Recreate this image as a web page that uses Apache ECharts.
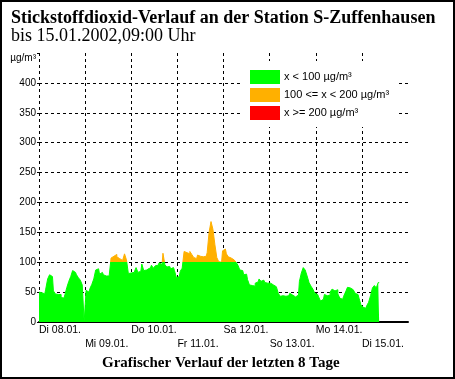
<!DOCTYPE html>
<html>
<head>
<meta charset="utf-8">
<script src="https://cdn.jsdelivr.net/npm/echarts@6/dist/echarts.min.js"></script>
<style>html,body{margin:0;padding:0;background:#fff;}#c{width:455px;height:379px;}</style>
</head>
<body>
<div id="c"></div>
<script>
const dayLabels = ['Di 08.01.', 'Mi 09.01.', 'Do 10.01.', 'Fr 11.01.', 'Sa 12.01.', 'So 13.01.', 'Mo 14.01.', 'Di 15.01.'];
// hourly NO2 values (µg/m³) from 08.01. 00:00 to 15.01. 09:00
const no2Values = [
  50,49,48,47,55,72,79,76,52,47,46,46,41,40,46,58,68,76,86,83,79,74,70,62,
  0,53,50,56,63,72,87,89,80,83,79,77,77,80,107,110,113,109,106,103,103,114,104,81,
  82,83,82,91,83,85,97,86,87,90,86,95,
  90,94,95,99,96,115,96,92,93,89,91,86,
  74,76,85,90,118,116,114,118,113,108,106,112,110,109,109,110,116,150,168,155,130,108,101,100,
  119,122,114,109,107,104,102,100,95,87,86,79,80,71,62,61,60,65,67,72,68,70,
  66,65,65,63,62,59,59,48,43,44,43,46,44,48,45,42,39,45,68,82,91,87,77,66,60,55,
  48,46,42,35,38,46,44,45,50,55,52,54,47,40,38,43,50,58,57,54,51,48,46,40,
  29,25,23,27,33,44,57,61,57,66
];
const classLabels = ['x < 100 µg/m³', '100 <= x < 200 µg/m³', 'x >= 200 µg/m³'];
const classLimits = [100, 200];
const yTicksMax = 450;
const unitLabel = 'µg/m³';

const chart = echarts.init(document.getElementById('c'), null, {renderer: 'canvas'});
const seriesData = no2Values.map((v, i) => [i, v]);
const dash = {color: '#000', type: [3, 3], width: 1};

chart.setOption({
  animation: false,
  backgroundColor: '#fff',
  title: [
    {
      text: 'Stickstoffdioxid-Verlauf an der Station S-Zuffenhausen',
      subtext: 'bis 15.01.2002,09:00 Uhr',
      left: 11, top: 9, padding: 0, itemGap: 0,
      textStyle: {fontFamily: 'Liberation Serif', fontWeight: 'bold', fontSize: 18, lineHeight: 18, color: '#000'},
      subtextStyle: {fontFamily: 'Liberation Serif', fontWeight: 'normal', fontSize: 18, lineHeight: 18, color: '#000'}
    },
    {
      text: 'Grafischer Verlauf der letzten 8 Tage',
      left: 102, top: 356, padding: 0,
      textStyle: {fontFamily: 'Liberation Serif', fontWeight: 'bold', fontSize: 15, lineHeight: 15, color: '#000'}
    }
  ],
  grid: {left: 39, right: 47, top: 53, bottom: 57},
  xAxis: {
    type: 'value', min: 0, max: 192, interval: 24,
    axisLine: {show: true, lineStyle: {color: '#000', width: 2}},
    axisTick: {show: false},
    splitLine: {show: true, lineStyle: dash, showMinLine: true, showMaxLine: false},
    axisLabel: {
      show: true, showMaxLabel: false, align: 'left', margin: 2,
      fontFamily: 'Liberation Sans', fontSize: 10.5, color: '#000',
      formatter: function (val) {
        const i = Math.round(val / 24);
        if (i >= dayLabels.length) return '';
        return i % 2 === 0 ? '{a|' + dayLabels[i] + '}' : '{b|' + dayLabels[i] + '}';
      },
      rich: {
        a: {fontFamily: 'Liberation Sans', fontSize: 10.5, lineHeight: 12, color: '#000'},
        b: {fontFamily: 'Liberation Sans', fontSize: 10.5, lineHeight: 12, color: '#000', padding: [29, 0, 0, 0]}
      }
    }
  },
  yAxis: {
    type: 'value', min: 0, max: yTicksMax, interval: 50,
    axisLine: {show: false},
    axisTick: {show: true, length: 2, lineStyle: {color: '#000'}},
    splitLine: {show: true, lineStyle: dash, showMinLine: false, showMaxLine: false},
    axisLabel: {
      margin: 3, fontFamily: 'Liberation Sans', fontSize: 10, color: '#000',
      formatter: function (v) { return v === yTicksMax ? '{u|' + unitLabel + '}' : String(v); },
      rich: {u: {fontFamily: 'Liberation Sans', fontSize: 10, color: '#000', padding: [10, 0, 0, 0]}}
    }
  },
  visualMap: {
    type: 'piecewise',
    seriesIndex: 0, dimension: 1,
    orient: 'vertical', left: 243, top: 61,
    align: 'left', inverse: true,
    backgroundColor: '#fff',
    padding: [9, 9, 7, 7],
    itemWidth: 30, itemHeight: 14, itemGap: 4, textGap: 4,
    itemSymbol: 'rect',
    selectedMode: false, hoverLink: false,
    textStyle: {fontFamily: 'Liberation Sans', fontSize: 11, color: '#000'},
    pieces: [
      {lt: classLimits[0], color: '#00FF00', label: classLabels[0]},
      {gte: classLimits[0], lt: classLimits[1], color: '#FFB000', label: classLabels[1]},
      {gte: classLimits[1], color: '#FF0000', label: classLabels[2]}
    ]
  },
  series: [{
    type: 'line',
    data: seriesData,
    step: 'middle',
    symbol: 'none',
    lineStyle: {width: 1},
    areaStyle: {opacity: 1},
    z: 3
  }],
  graphic: [{
    type: 'rect', silent: true, z: 100,
    shape: {x: 1, y: 1, width: 453, height: 377},
    style: {fill: null, stroke: '#000', lineWidth: 2}
  }]
});
</script>
</body>
</html>
